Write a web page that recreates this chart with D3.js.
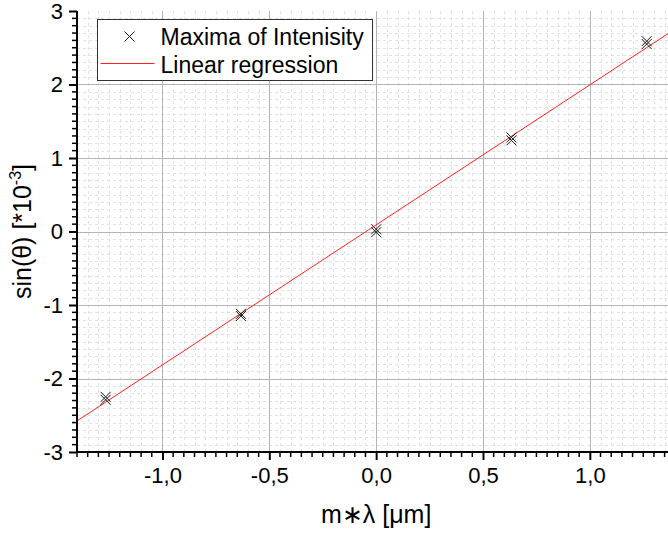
<!DOCTYPE html>
<html>
<head>
<meta charset="utf-8">
<script src="https://cdn.jsdelivr.net/npm/d3@7"></script>
<style>
  body { margin: 0; background: white; }
  svg { display: block; font-family: Arial, "Liberation Sans", sans-serif; }
</style>
</head>
<body>
<div class="chart"></div>
<script>
// wavelength multiples m*lambda (um)
const mLambda = [-1.266, -0.633, 0, 0.633, 1.266]
// two readings of sin(theta) per order, *10^-3
const sinThetaA = [-2.25, -1.12, 0.03, 1.28, 2.59]
const sinThetaB = [-2.29, -1.15, -0.01, 1.24, 2.55]
// linear regression fit
const fitIntercept = 0.09
const fitSlope = 1.905

const xTicks = [-1.0, -0.5, 0.0, 0.5, 1.0]
const yTicks = [-3, -2, -1, 0, 1, 2, 3]
const legendLabels = ["Maxima of Intenisity", "Linear regression"]

function drawChart() {
  const points = []
  mLambda.forEach((x, i) => {
    points.push({ x: x, y: sinThetaA[i] })
    points.push({ x: x, y: sinThetaB[i] })
  })

  const dimensions = {
    width: 668,
    height: 533,
    margin: {
      top: 11,
      right: -7.3,
      bottom: 81,
      left: 77,
    },
  }
  dimensions.boundedWidth = dimensions.width
    - dimensions.margin.left
    - dimensions.margin.right
  dimensions.boundedHeight = dimensions.height
    - dimensions.margin.top
    - dimensions.margin.bottom

  const wrapper = d3.select(".chart")
    .append("svg")
    .attr("width", dimensions.width)
    .attr("height", dimensions.height)

  const bounds = wrapper.append("g")
    .attr("transform", `translate(${dimensions.margin.left}, ${dimensions.margin.top})`)

  const xScale = d3.scaleLinear()
    .domain([-1.4, 1.4])
    .range([0, dimensions.boundedWidth])

  const yScale = d3.scaleLinear()
    .domain([-3, 3])
    .range([dimensions.boundedHeight, 0])

  // minor grid (dashed)
  const xMinor = d3.range(-28, 29).map(d => d * 0.05).filter(d => Math.abs(d * 2 - Math.round(d * 2)) > 1e-6)
  const yMinor = d3.range(-30, 31).map(d => d * 0.1).filter(d => Math.abs(d - Math.round(d)) > 1e-6)

  bounds.append("g").selectAll("line")
    .data(xMinor)
    .enter().append("line")
    .attr("x1", d => Math.round(xScale(d)) + 0.5)
    .attr("x2", d => Math.round(xScale(d)) + 0.5)
    .attr("y1", 0)
    .attr("y2", dimensions.boundedHeight)
    .attr("stroke", "#e2e2e2")
    .attr("stroke-dasharray", "3 3")

  bounds.append("g").selectAll("line")
    .data(yMinor)
    .enter().append("line")
    .attr("x1", 0)
    .attr("x2", dimensions.boundedWidth)
    .attr("y1", d => Math.round(yScale(d)) + 0.5)
    .attr("y2", d => Math.round(yScale(d)) + 0.5)
    .attr("stroke", "#e2e2e2")
    .attr("stroke-dasharray", "3 3")

  // major grid
  bounds.append("g").selectAll("line")
    .data(xTicks)
    .enter().append("line")
    .attr("x1", d => Math.round(xScale(d)) + 0.5)
    .attr("x2", d => Math.round(xScale(d)) + 0.5)
    .attr("y1", 0)
    .attr("y2", dimensions.boundedHeight)
    .attr("stroke", "#b4b4b4")

  bounds.append("g").selectAll("line")
    .data(yTicks.filter(d => d > -3 && d < 3))
    .enter().append("line")
    .attr("x1", 0)
    .attr("x2", dimensions.boundedWidth)
    .attr("y1", d => Math.round(yScale(d)) + 0.5)
    .attr("y2", d => Math.round(yScale(d)) + 0.5)
    .attr("stroke", "#b4b4b4")

  // regression line
  const lineGenerator = d3.line()
    .x(d => xScale(d))
    .y(d => yScale(fitIntercept + fitSlope * d))
  bounds.append("path")
    .attr("d", lineGenerator(xScale.domain()))
    .attr("fill", "none")
    .attr("stroke", "#ff2020")
    .attr("stroke-width", 1)

  // markers
  const cross = s => `M${-s},${-s}L${s},${s}M${-s},${s}L${s},${-s}`
  bounds.append("g").selectAll("path")
    .data(points)
    .enter().append("path")
    .attr("transform", d => `translate(${xScale(d.x)}, ${yScale(d.y)})`)
    .attr("d", cross(5))
    .attr("fill", "none")
    .attr("stroke", "#1a1a1a")
    .attr("stroke-width", 1)

  // axes
  const xAxisGenerator = d3.axisBottom()
    .scale(xScale)
    .tickValues(xTicks)
    .tickSize(8)
    .tickPadding(7)
    .tickFormat(d => d.toFixed(1).replace(".", ","))

  const xAxis = bounds.append("g")
    .call(xAxisGenerator)
    .attr("transform", `translate(0, ${dimensions.boundedHeight})`)
  xAxis.select(".domain").attr("stroke-width", 2).attr("d", `M0,0H${dimensions.boundedWidth}`)
  xAxis.selectAll("line").attr("stroke-width", 2)
  xAxis.selectAll("text").style("font-size", "22px").attr("fill", "#000")

  xAxis.append("g").selectAll("line")
    .data(xMinor)
    .enter().append("line")
    .attr("x1", d => xScale(d))
    .attr("x2", d => xScale(d))
    .attr("y1", 0)
    .attr("y2", 5)
    .attr("stroke", "#000")
    .attr("stroke-width", 1.5)

  const yAxisGenerator = d3.axisLeft()
    .scale(yScale)
    .tickValues(yTicks)
    .tickSize(8)
    .tickPadding(6)
    .tickFormat(d => String(d))

  const yAxis = bounds.append("g")
    .call(yAxisGenerator)
  yAxis.select(".domain").attr("stroke-width", 2).attr("d", `M0,0V${dimensions.boundedHeight}`)
  yAxis.selectAll("line").attr("stroke-width", 2)
  yAxis.selectAll("text").style("font-size", "22px").attr("fill", "#000")

  yAxis.append("g").selectAll("line")
    .data(yMinor)
    .enter().append("line")
    .attr("x1", 0)
    .attr("x2", -5)
    .attr("y1", d => yScale(d))
    .attr("y2", d => yScale(d))
    .attr("stroke", "#000")
    .attr("stroke-width", 1.5)

  // axis labels
  wrapper.append("text")
    .attr("x", dimensions.margin.left + xScale(0))
    .attr("y", 523)
    .attr("fill", "#000")
    .style("font-size", "25px")
    .style("text-anchor", "middle")
    .text("m\u2217\u03bb [\u03bcm]")

  const yLabel = wrapper.append("text")
    .attr("transform", `translate(31, ${dimensions.margin.top + yScale(0)}) rotate(-90)`)
    .attr("fill", "#000")
    .style("font-size", "25px")
    .style("text-anchor", "middle")
  yLabel.append("tspan").text("sin(\u03b8) [*10")
  yLabel.append("tspan").attr("dy", -10).style("font-size", "16px").text("-3")
  yLabel.append("tspan").attr("dy", 10).text("]")

  // legend
  const legend = wrapper.append("g")
    .attr("transform", "translate(97.5, 19.5)")
  legend.append("rect")
    .attr("width", 275)
    .attr("height", 61)
    .attr("fill", "white")
    .attr("stroke", "#333")
    .attr("stroke-width", 1)
  legend.append("path")
    .attr("transform", "translate(32, 17)")
    .attr("d", cross(5))
    .attr("fill", "none")
    .attr("stroke", "#1a1a1a")
  legend.append("line")
    .attr("x1", 3)
    .attr("x2", 57)
    .attr("y1", 44)
    .attr("y2", 44)
    .attr("stroke", "#ff2020")
  legend.selectAll(".label")
    .data(legendLabels)
    .enter().append("text")
    .attr("class", "label")
    .attr("x", 63)
    .attr("y", (d, i) => 25 + i * 28)
    .attr("fill", "#000")
    .style("font-size", "23px")
    .text(d => d)
}

drawChart()
</script>
</body>
</html>
